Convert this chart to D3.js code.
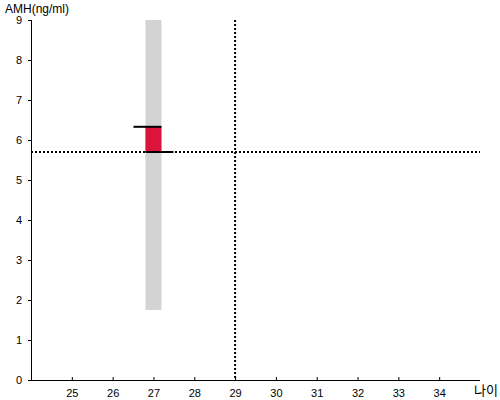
<!DOCTYPE html>
<html>
<head>
<meta charset="utf-8">
<script src="https://cdn.jsdelivr.net/npm/d3@7"></script>
<style>
  body { margin: 0; background: #fff; }
  text { font-family: "Liberation Sans", Arial, sans-serif; }
</style>
</head>
<body>
<svg id="chart" width="500" height="400"></svg>
<script>
// data
const xTicks = [25, 26, 27, 28, 29, 30, 31, 32, 33, 34];
const yTicks = [0, 1, 2, 3, 4, 5, 6, 7, 8, 9];
const rangeBar = { age: 27, low: 1.75, high: 9 };   // gray range
const valueBar = { age: 27, from: 5.7, to: 6.33 };  // red part
const refAge = 29;
const refAmh = 5.7;

const svg = d3.select("#chart");

const x = d3.scaleLinear().domain([24, 35]).range([31, 480]);
const y = d3.scaleLinear().domain([0, 9]).range([380, 20]);
const barW = 16;

// gray range bar
svg.append("rect")
  .attr("x", x(rangeBar.age) - barW / 2)
  .attr("y", y(rangeBar.high))
  .attr("width", barW)
  .attr("height", y(rangeBar.low) - y(rangeBar.high))
  .attr("fill", "#d3d3d3");

// red value
svg.append("rect")
  .attr("x", x(valueBar.age) - barW / 2)
  .attr("y", y(valueBar.to))
  .attr("width", barW)
  .attr("height", y(valueBar.from) - y(valueBar.to))
  .attr("fill", "#dc143c");

// reference dotted lines
svg.append("line")
  .attr("x1", x(24)).attr("x2", x(35))
  .attr("y1", y(refAmh)).attr("y2", y(refAmh))
  .attr("stroke", "#000").attr("stroke-width", 2)
  .attr("stroke-dasharray", "2,2");

svg.append("line")
  .attr("x1", x(refAge)).attr("x2", x(refAge))
  .attr("y1", y(9)).attr("y2", y(0))
  .attr("stroke", "#000").attr("stroke-width", 2)
  .attr("stroke-dasharray", "2,2");

// black markers on the red bar
svg.append("line")
  .attr("x1", x(valueBar.age) - barW / 2 - 12).attr("x2", x(valueBar.age) + barW / 2)
  .attr("y1", y(valueBar.to)).attr("y2", y(valueBar.to))
  .attr("stroke", "#000").attr("stroke-width", 2);

svg.append("line")
  .attr("x1", x(valueBar.age) - barW / 2).attr("x2", x(valueBar.age) + barW / 2 + 12)
  .attr("y1", y(valueBar.from)).attr("y2", y(valueBar.from))
  .attr("stroke", "#000").attr("stroke-width", 2);

// axes
const xAxis = svg.append("g")
  .attr("transform", `translate(0,${y(0)})`)
  .call(d3.axisTop(x).tickValues(xTicks).tickSize(3).tickFormat(d3.format("d")));
xAxis.select(".domain").attr("d", `M${x(24)},0.5H${x(35)}`);
xAxis.selectAll("text").attr("transform", "translate(0,13)").attr("y", 0).attr("dy", "0.32em");

const yAxis = svg.append("g")
  .attr("transform", `translate(${x(24)},0)`)
  .call(d3.axisLeft(y).tickValues(yTicks).tickSize(3).tickSizeOuter(0));
yAxis.select(".domain").attr("d", `M0.5,${y(9)}V${y(0)}`);

svg.selectAll(".tick text").attr("font-size", 11).attr("fill", "#000")
  .style("font-family", "'Liberation Sans', Arial, sans-serif");
yAxis.selectAll("text").attr("x", -9);
svg.selectAll(".domain, .tick line").attr("stroke", "#000");

// labels
svg.append("text")
  .attr("x", 5).attr("y", 13)
  .attr("font-size", 12)
  .text("AMH(ng/ml)");

svg.append("text")
  .attr("x", 474).attr("y", 395)
  .attr("font-size", 13)
  .style("font-family", "'Noto Sans CJK KR', sans-serif")
  .text("나이");
</script>
</body>
</html>
